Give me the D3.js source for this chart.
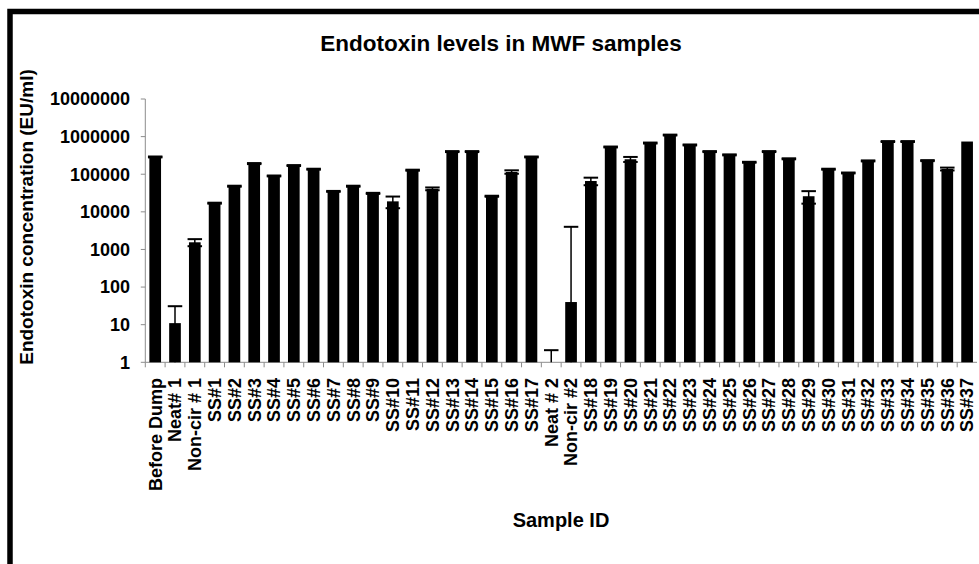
<!DOCTYPE html>
<html>
<head>
<meta charset="utf-8">
<script src="https://cdn.jsdelivr.net/npm/d3@7"></script>
<style>
  body { margin: 0; background: #fff; }
  svg text { font-family: "Liberation Sans", Arial, sans-serif; font-weight: bold; fill: #000; }
</style>
</head>
<body>
<svg id="chart" width="979" height="564"></svg>
<script>
// sample names (x categories)
var samples = ["Before Dump", "Neat# 1", "Non-cir # 1",
  "SS#1", "SS#2", "SS#3", "SS#4", "SS#5", "SS#6", "SS#7", "SS#8", "SS#9", "SS#10",
  "SS#11", "SS#12", "SS#13", "SS#14", "SS#15", "SS#16", "SS#17",
  "Neat # 2", "Non-cir #2",
  "SS#18", "SS#19", "SS#20", "SS#21", "SS#22", "SS#23", "SS#24", "SS#25", "SS#26", "SS#27",
  "SS#28", "SS#29", "SS#30", "SS#31", "SS#32", "SS#33", "SS#34", "SS#35", "SS#36", "SS#37"];

// endotoxin (EU/ml)
var endotoxin = [288000, 11, 1550,
  17000, 48000, 192000, 90000, 170000, 136000, 35000, 48000, 31000, 19000,
  128000, 41000, 400000, 400000, 26000, 115000, 288000,
  1, 40,
  66000, 530000, 250000, 675000, 1100000, 600000, 400000, 327000, 208000, 400000,
  257000, 26000, 136000, 108000, 226000, 740000, 740000, 230000, 138000, 740000];

// error (+/-)
var errors = [8000, 20, 330,
  500, 1500, 6000, 2500, 5000, 4000, 1000, 1500, 1000, 6500,
  4000, 3500, 12000, 12000, 800, 12000, 8000,
  1.1, 3960,
  15000, 15000, 38000, 20000, 30000, 18000, 12000, 10000, 6000, 12000,
  8000, 9500, 4000, 3000, 7000, 20000, 20000, 7000, 12000, 0];

var yTicks = [1, 10, 100, 1000, 10000, 100000, 1000000, 10000000];

var svg = d3.select("#chart");

// outer frame
svg.append("rect")
  .attr("x", 10).attr("y", 11.5)
  .attr("width", 1000).attr("height", 600)
  .attr("fill", "none")
  .attr("stroke", "#000")
  .attr("stroke-width", 5.5);

var plotLeft = 145.3, plotRight = 977, plotTop = 99, plotBottom = 362.3;

var x = d3.scaleBand()
  .domain(samples)
  .range([plotLeft, plotRight])
  .paddingInner(0.41)
  .paddingOuter(0.205);

var y = d3.scaleLog()
  .domain([1, 10000000])
  .range([plotBottom, plotTop]);

var step = x.step();

// y axis
var yAxis = svg.append("g");
yAxis.append("line")
  .attr("x1", plotLeft).attr("x2", plotLeft)
  .attr("y1", plotTop).attr("y2", plotBottom)
  .attr("stroke", "#8c8c8c");
yAxis.selectAll(".ytick")
  .data(yTicks)
  .enter()
  .append("line")
  .attr("class", "ytick")
  .attr("x1", plotLeft - 4.5).attr("x2", plotLeft)
  .attr("y1", function(d){ return y(d); })
  .attr("y2", function(d){ return y(d); })
  .attr("stroke", "#8c8c8c");
yAxis.selectAll(".ylabel")
  .data(yTicks)
  .enter()
  .append("text")
  .attr("class", "ylabel")
  .attr("x", 130)
  .attr("y", function(d){ return y(d); })
  .attr("dy", "0.35em")
  .attr("text-anchor", "end")
  .style("font-size", "18px")
  .text(function(d){ return d3.format("d")(d); });

// x axis
var xAxis = svg.append("g");
xAxis.append("line")
  .attr("x1", plotLeft).attr("x2", plotRight)
  .attr("y1", plotBottom).attr("y2", plotBottom)
  .attr("stroke", "#8c8c8c");
xAxis.selectAll(".xtick")
  .data(samples)
  .enter()
  .append("line")
  .attr("class", "xtick")
  .attr("x1", function(d){ return x(d) - step * x.paddingInner() / 2; })
  .attr("x2", function(d){ return x(d) - step * x.paddingInner() / 2; })
  .attr("y1", plotBottom).attr("y2", plotBottom + 5)
  .attr("stroke", "#8c8c8c");
xAxis.selectAll(".xlabel")
  .data(samples)
  .enter()
  .append("text")
  .attr("class", "xlabel")
  .attr("transform", function(d){
    return "translate(" + (x(d) + x.bandwidth() / 2) + "," + 378 + ") rotate(-90)";
  })
  .attr("dy", "0.35em")
  .attr("text-anchor", "end")
  .style("font-size", "18px")
  .text(function(d){ return d; });

// bars
svg.append("g").selectAll("rect")
  .data(samples)
  .enter()
  .append("rect")
  .attr("x", function(d){ return x(d); })
  .attr("y", function(d, i){ return y(endotoxin[i]); })
  .attr("width", x.bandwidth())
  .attr("height", function(d, i){ return plotBottom - y(endotoxin[i]); })
  .attr("fill", "#000");

// error bars
var capW = 14.5;
var err_g = svg.append("g").attr("stroke", "#000");
samples.forEach(function(d, i){
  if (errors[i] <= 0) return;
  var cx = x(d) + x.bandwidth() / 2;
  var hi = endotoxin[i] + errors[i];
  var lo = endotoxin[i] - errors[i];
  var clamped = lo < 1;
  if (clamped) lo = 1;
  err_g.append("line")
    .attr("x1", cx).attr("x2", cx)
    .attr("y1", y(hi)).attr("y2", y(lo))
    .attr("stroke-width", 1.5);
  err_g.append("line")
    .attr("x1", cx - capW / 2).attr("x2", cx + capW / 2)
    .attr("y1", y(hi)).attr("y2", y(hi))
    .attr("stroke-width", 2);
  if (!clamped) {
    err_g.append("line")
      .attr("x1", cx - capW / 2).attr("x2", cx + capW / 2)
      .attr("y1", y(lo)).attr("y2", y(lo))
      .attr("stroke-width", 2);
  }
});

// titles
svg.append("text")
  .attr("x", 501).attr("y", 51)
  .attr("text-anchor", "middle")
  .style("font-size", "22.5px")
  .text("Endotoxin levels in MWF samples");

svg.append("text")
  .attr("transform", "translate(33,217) rotate(-90)")
  .attr("text-anchor", "middle")
  .style("font-size", "19px")
  .text("Endotoxin concentration (EU/ml)");

svg.append("text")
  .attr("x", 561).attr("y", 527)
  .attr("text-anchor", "middle")
  .style("font-size", "20px")
  .text("Sample ID");
</script>
</body>
</html>
